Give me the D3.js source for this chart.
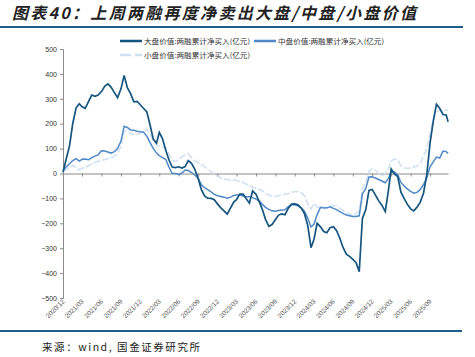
<!DOCTYPE html>
<html><head><meta charset="utf-8">
<script src="https://cdn.jsdelivr.net/npm/d3@7"></script>
<style>body{margin:0;background:#fff}svg{display:block}</style>
</head><body>
<svg id="c" width="475" height="357"></svg>
<script>
const title = "图表40：上周两融再度净卖出大盘/中盘/小盘价值";
const source = "来源：wind, 国金证券研究所";
const seriesNames = ["大盘价值:两融累计净买入(亿元)", "中盘价值:两融累计净买入(亿元)", "小盘价值:两融累计净买入(亿元)"];
const tickLabels = ["2020/12","2021/03","2021/06","2021/09","2021/12","2022/03","2022/06","2022/09","2022/12","2023/03","2023/06","2023/09","2023/12","2024/03","2024/06","2024/09","2024/12","2025/03","2025/06","2025/09"];
const yTicks = [500,400,300,200,100,0,-100,-200,-300,-400,-500];
const dates = [
"2020-12-01","2020-12-16","2021-01-01","2021-01-16","2021-02-01","2021-02-16","2021-03-01","2021-03-16","2021-04-01","2021-04-16",
"2021-05-01","2021-05-16","2021-06-01","2021-06-16","2021-07-01","2021-07-16","2021-08-01","2021-08-16","2021-09-01","2021-09-16",
"2021-10-01","2021-10-16","2021-11-01","2021-11-16","2021-12-01","2021-12-16","2022-01-01","2022-01-16","2022-02-01","2022-02-16",
"2022-03-01","2022-03-16","2022-04-01","2022-04-16","2022-05-01","2022-05-16","2022-06-01","2022-06-16","2022-07-01","2022-07-16",
"2022-08-01","2022-08-16","2022-09-01","2022-09-16","2022-10-01","2022-10-16","2022-11-01","2022-11-16","2022-12-01","2022-12-16",
"2023-01-01","2023-01-16","2023-02-01","2023-02-16","2023-03-01","2023-03-16","2023-04-01","2023-04-16","2023-05-01","2023-05-16",
"2023-06-01","2023-06-16","2023-07-01","2023-07-16","2023-08-01","2023-08-16","2023-09-01","2023-09-16","2023-10-01","2023-10-16",
"2023-11-01","2023-11-16","2023-12-01","2023-12-16","2024-01-01","2024-01-16","2024-02-01","2024-02-16","2024-03-01","2024-03-16",
"2024-04-01","2024-04-16","2024-05-01","2024-05-16","2024-06-01","2024-06-16","2024-07-01","2024-07-16","2024-08-01","2024-08-16",
"2024-09-01","2024-09-16","2024-10-01","2024-10-16","2024-11-01","2024-11-16","2024-12-01","2024-12-16","2025-01-01","2025-01-16",
"2025-02-01","2025-02-16","2025-03-01","2025-03-16","2025-04-01","2025-04-16","2025-05-01","2025-05-16","2025-06-01","2025-06-16",
"2025-07-01","2025-07-16","2025-08-01","2025-08-16","2025-09-01","2025-09-16","2025-10-01","2025-10-16","2025-11-01","2025-11-16",
"2025-11-25"];
const largeValues = [
5,58,112,200,264,280,268,262,290,315,
310,315,329,350,360,347,325,305,340,394,
345,322,288,290,276,262,248,197,137,122,
165,140,92,54,26,24,27,22,28,52,
40,17,-20,-65,-90,-99,-100,-105,-122,-137,
-150,-163,-138,-115,-105,-83,-83,-101,-119,-70,
-83,-112,-144,-184,-212,-205,-185,-167,-162,-166,
-139,-123,-122,-126,-139,-161,-210,-298,-265,-200,
-214,-233,-238,-218,-214,-230,-259,-296,-324,-333,
-345,-358,-394,-180,-145,-68,-64,-86,-110,-127,
-153,-68,18,-2,-12,-75,-100,-123,-142,-150,
-135,-116,-78,-6,124,210,278,262,237,235,
208];
const midValues = [
12,26,39,52,60,50,57,58,55,64,
70,75,91,90,86,82,88,100,130,190,
185,175,174,170,168,167,150,125,100,82,
72,64,56,25,0,0,-4,2,14,12,
4,-6,-20,-45,-57,-65,-74,-84,-89,-92,
-95,-99,-95,-88,-86,-86,-90,-93,-93,-97,
-103,-111,-124,-136,-144,-150,-152,-149,-147,-146,
-133,-126,-126,-130,-138,-151,-180,-215,-204,-165,
-136,-139,-138,-134,-140,-145,-153,-160,-167,-170,
-173,-173,-170,-82,-60,-14,-13,-18,-24,-30,
-37,-20,7,6,-5,-36,-50,-62,-72,-79,
-76,-65,-44,-18,28,47,66,62,90,88,
81];
const smallValues = [
5,15,24,33,24,15,20,25,32,38,
44,49,52,56,59,63,70,80,108,170,
172,160,157,156,162,169,179,158,134,116,
110,106,102,79,53,48,55,68,75,80,
63,51,44,37,27,17,7,-3,-11,-17,
-21,-25,-26,-26,-28,-31,-36,-43,-49,-55,
-60,-64,-69,-79,-87,-90,-92,-89,-86,-83,
-80,-75,-73,-73,-77,-90,-123,-143,-121,-135,
-137,-134,-138,-135,-128,-131,-140,-149,-159,-163,
-167,-163,-150,-60,-34,10,19,13,0,-9,
-1,20,51,58,55,31,22,21,22,26,
30,38,70,98,163,218,246,255,249,255,
255];

const colors = ["#15557f", "#4f88c6", "#cfe0f2"];
const FONT = "'Noto Sans CJK SC', 'Liberation Sans', sans-serif";
const parse = d3.utcParse("%Y-%m-%d");
const parseTick = d3.utcParse("%Y/%m");
const svg = d3.select("#c");

// title
svg.append("text").attr("x", 12).attr("y", 19).text(title)
  .attr("font-family", FONT).attr("font-size", 16).attr("font-weight", "bold")
  .attr("font-style", "italic").attr("fill", "#222")
  .attr("textLength", 404).attr("lengthAdjust", "spacing");
svg.append("line").attr("x1", 0).attr("x2", 463).attr("y1", 27).attr("y2", 27)
  .attr("stroke", "#1f5c8a").attr("stroke-width", 2);

const x = d3.scaleUtc().domain([parse("2020-12-01"), parse("2025-11-25")]).range([63, 448.1]);
const y = d3.scaleLinear().domain([-500, 500]).range([298, 49]);

// y axis
const yAxis = svg.append("g").attr("transform", "translate(63,0)")
  .call(d3.axisLeft(y).tickValues(yTicks).tickSize(3).tickPadding(3).tickFormat(d3.format("d")));
yAxis.select(".domain").attr("stroke", "#8a8a8a").attr("stroke-width", 1);
yAxis.selectAll(".tick line").attr("stroke", "#8a8a8a");
yAxis.selectAll("text").attr("font-family", "'Liberation Sans', sans-serif").attr("font-size", 7).attr("fill", "#333");

// x axis on zero line
const xAxis = svg.append("g").attr("transform", `translate(0,${y(0)})`)
  .call(d3.axisBottom(x).tickValues(tickLabels.map(parseTick)).tickSize(3).tickSizeOuter(0).tickFormat(""));
xAxis.select(".domain").attr("stroke", "#8a8a8a").attr("stroke-width", 1.2);
xAxis.selectAll(".tick line").attr("stroke", "#8a8a8a");

// rotated labels at bottom
svg.append("g").selectAll("text").data(tickLabels).join("text")
  .attr("transform", d => `translate(${x(parseTick(d)) + 2},${302}) rotate(-45)`)
  .attr("text-anchor", "end").attr("font-family", "'Liberation Sans', sans-serif")
  .attr("font-size", 6.5).attr("fill", "#555").text(d => d);

// lines
const line = d3.line().x(d => x(d.date)).y(d => y(d.v));
const mk = vals => dates.map((d, i) => ({date: parse(d), v: vals[i]}));
svg.append("path").datum(mk(smallValues)).attr("d", line).attr("fill", "none")
  .attr("stroke", colors[2]).attr("stroke-width", 1.5).attr("stroke-dasharray", "7,2");
svg.append("path").datum(mk(midValues)).attr("d", line).attr("fill", "none")
  .attr("stroke", colors[1]).attr("stroke-width", 1.5);
svg.append("path").datum(mk(largeValues)).attr("d", line).attr("fill", "none")
  .attr("stroke", colors[0]).attr("stroke-width", 1.7);

// legend
const legend = [
  {name: seriesNames[0], color: colors[0], x: 120, y: 41, dash: null},
  {name: seriesNames[1], color: colors[1], x: 254, y: 41, dash: null},
  {name: seriesNames[2], color: colors[2], x: 120, y: 55, dash: "11,4"}
];
const lg = svg.append("g").selectAll("g").data(legend).join("g");
lg.append("line").attr("x1", d => d.x).attr("x2", d => d.x + 22).attr("y1", d => d.y).attr("y2", d => d.y)
  .attr("stroke", d => d.color).attr("stroke-width", 2.5).attr("stroke-dasharray", d => d.dash);
lg.append("text").attr("x", d => d.x + 24).attr("y", d => d.y + 2.5).text(d => d.name)
  .attr("font-family", FONT).attr("font-size", 7).attr("fill", "#333")
  .attr("textLength", 106).attr("lengthAdjust", "spacingAndGlyphs");

// bottom rule and source
svg.append("line").attr("x1", 0).attr("x2", 462).attr("y1", 331).attr("y2", 331)
  .attr("stroke", "#1f5c8a").attr("stroke-width", 2);
svg.append("text").attr("x", 42).attr("y", 351).text(source)
  .attr("font-family", FONT).attr("font-size", 10.5).attr("fill", "#222")
  .attr("textLength", 158).attr("lengthAdjust", "spacing");
</script>
</body></html>
